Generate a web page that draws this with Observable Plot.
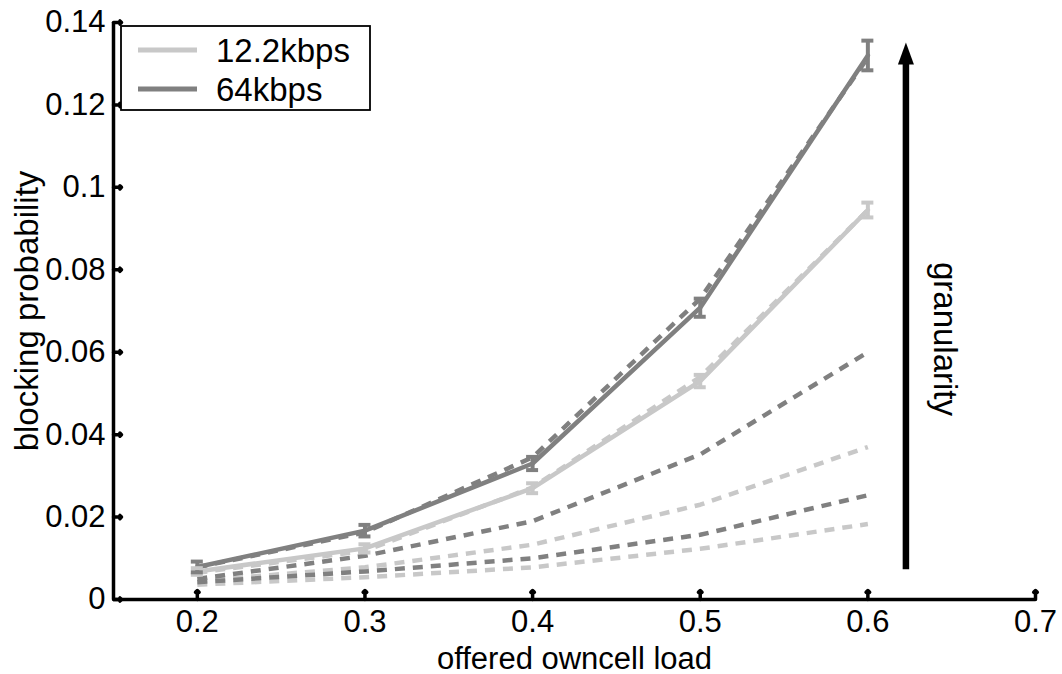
<!DOCTYPE html>
<html><head><meta charset="utf-8">
<script src="https://cdn.jsdelivr.net/npm/d3@7"></script>
<script src="https://cdn.jsdelivr.net/npm/@observablehq/plot@0.6"></script>
<style>body{margin:0;background:#fff;} #chart{width:1062px;height:674px;}</style>
</head><body><div id="chart"></div>
<script>
// ---- data ----
const loads = [0.2, 0.3, 0.4, 0.5, 0.6];
const seriesNames = ["12.2kbps", "64kbps"];
const seriesColors = ["#c8c8c8", "#808080"];
const solid122 = [0.0068, 0.0124, 0.0270, 0.0530, 0.0945];
const err122   = [0.0008, 0.0010, 0.0012, 0.0015, 0.0018];
const solid64  = [0.0079, 0.0167, 0.0330, 0.0708, 0.1320];
const err64    = [0.0013, 0.0014, 0.0016, 0.0022, 0.0036];
const dashed122 = [
  [0.0065, 0.0118, 0.0272, 0.0540, 0.0945],
  [0.0045, 0.0078, 0.0133, 0.0230, 0.0370],
  [0.0036, 0.0054, 0.0078, 0.0123, 0.0183]
];
const dashed64 = [
  [0.0078, 0.0163, 0.0345, 0.0730, 0.1315],
  [0.0050, 0.0106, 0.0190, 0.0352, 0.0600],
  [0.0042, 0.0068, 0.0100, 0.0157, 0.0253]
];
const xTicks = [0.2, 0.3, 0.4, 0.5, 0.6, 0.7];
const xTickLabels = ["0.2", "0.3", "0.4", "0.5", "0.6", "0.7"];
const yTicks = [0, 0.02, 0.04, 0.06, 0.08, 0.1, 0.12, 0.14];
const yTickLabels = ["0", "0.02", "0.04", "0.06", "0.08", "0.1", "0.12", "0.14"];
const xLabel = "offered owncell load";
const yLabel = "blocking probability";
const arrowLabel = "granularity";
const arrowX = 0.623;
const arrowY = [0.0072, 0.135];

// ---- tables ----
const solid = [
  ...loads.map((x, i) => ({x, y: solid122[i], e: err122[i], s: seriesNames[0]})),
  ...loads.map((x, i) => ({x, y: solid64[i], e: err64[i], s: seriesNames[1]}))
];
const dashed = [];
dashed122.forEach((arr, k) => arr.forEach((y, i) => dashed.push({x: loads[i], y, s: seriesNames[0], g: "a" + k})));
dashed64.forEach((arr, k) => arr.forEach((y, i) => dashed.push({x: loads[i], y, s: seriesNames[1], g: "b" + k})));
const colorOf = s => seriesColors[seriesNames.indexOf(s)];

const font = "'Liberation Sans', Arial, Helvetica, sans-serif";

const plot = Plot.plot({
  width: 1062, height: 674,
  marginLeft: 113, marginRight: 27, marginTop: 22, marginBottom: 75,
  x: {domain: [0.15, 0.7]},
  y: {domain: [0, 0.14]},
  style: {fontFamily: font, color: "#000", background: "#fff"},
  marks: [
    // dashed granularity lines
    Plot.line(dashed.filter(d => d.s === seriesNames[0]), {x: "x", y: "y", z: "g", stroke: colorOf(seriesNames[0]), strokeWidth: 4.5, strokeDasharray: "10,8", strokeLinecap: "butt"}),
    Plot.line(dashed.filter(d => d.s === seriesNames[1]), {x: "x", y: "y", z: "g", stroke: colorOf(seriesNames[1]), strokeWidth: 4.5, strokeDasharray: "10,8", strokeLinecap: "butt"}),
    // solid lines
    Plot.line(solid, {x: "x", y: "y", z: "s", stroke: d => colorOf(d.s), strokeWidth: 4.5}),
    // error bars
    Plot.ruleX(solid, {x: "x", y1: d => d.y - d.e, y2: d => d.y + d.e, stroke: d => colorOf(d.s), strokeWidth: 4}),
    Plot.ruleY(solid, {y: d => d.y + d.e, x1: "x", x2: "x", insetLeft: -6, insetRight: -6, stroke: d => colorOf(d.s), strokeWidth: 4}),
    Plot.ruleY(solid, {y: d => d.y - d.e, x1: "x", x2: "x", insetLeft: -6, insetRight: -6, stroke: d => colorOf(d.s), strokeWidth: 4}),
    // spines
    Plot.ruleY([0], {stroke: "#000", strokeWidth: 3.5}),
    Plot.ruleX([0.15], {y1: 0, y2: 0.14, stroke: "#000", strokeWidth: 3.5}),
    // inward ticks
    Plot.vector(xTicks, {x: d => d, y: 0, length: 9, rotate: 0, anchor: "start", stroke: "#000", strokeWidth: 3.5}),
    Plot.vector(yTicks, {x: 0.15, y: d => d, length: 8, rotate: 90, anchor: "start", stroke: "#000", strokeWidth: 3.5}),
    // tick labels
    Plot.axisX(xTicks, {tickSize: 0, tickPadding: 10, fontSize: 31, tickFormat: d => xTickLabels[xTicks.indexOf(d)], label: null}),
    Plot.axisY(yTicks, {tickSize: 0, tickPadding: 8, fontSize: 31, tickFormat: d => yTickLabels[yTicks.indexOf(d)], label: null}),
    // axis labels
    Plot.text([xLabel], {frameAnchor: "bottom", dy: 69, lineAnchor: "bottom", fontSize: 31, fill: "#000"}),
    Plot.text([yLabel], {frameAnchor: "left", dx: -76, rotate: -90, textAnchor: "middle", lineAnchor: "bottom", fontSize: 33, fill: "#000"})
  ]
});

const svg = d3.select(plot);
const xs = plot.scale("x"), ys = plot.scale("y");
// arrow
const ax = xs.apply(arrowX), ay1 = ys.apply(arrowY[0]), ay2 = ys.apply(arrowY[1]);
svg.append("line").attr("x1", ax).attr("x2", ax).attr("y1", ay1).attr("y2", ay2 + 18)
  .attr("stroke", "#000").attr("stroke-width", 6.5);
svg.append("path").attr("d", `M${ax},${ay2} L${ax - 8},${ay2 + 22} L${ax + 8},${ay2 + 22} Z`).attr("fill", "#000");
svg.append("text").attr("transform", `translate(${ax + 28},${(ay1 + ay2) / 2 + 33}) rotate(90)`)
  .attr("text-anchor", "middle").attr("font-size", 33).attr("font-family", font).attr("fill", "#000").text(arrowLabel);

// legend
const lg = svg.append("g");
lg.append("rect").attr("x", 121).attr("y", 26).attr("width", 249).attr("height", 84)
  .attr("fill", "#fff").attr("stroke", "#000").attr("stroke-width", 1.8);
seriesNames.forEach((name, i) => {
  const y = 50 + i * 39;
  lg.append("line").attr("x1", 138).attr("x2", 197).attr("y1", y).attr("y2", y)
    .attr("stroke", seriesColors[i]).attr("stroke-width", 5);
  lg.append("text").attr("x", 216).attr("y", y + 12).attr("font-size", 33).attr("font-family", font)
    .attr("text-anchor", "start").attr("fill", "#000").text(name);
});

document.getElementById("chart").appendChild(plot);
</script>
</body></html>
